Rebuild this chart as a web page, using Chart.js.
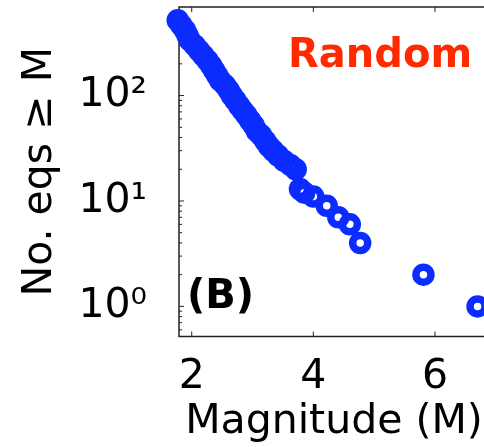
<!DOCTYPE html>
<html>
<head>
<meta charset="utf-8">
<script src="https://cdn.jsdelivr.net/npm/chart.js@4/dist/chart.umd.min.js"></script>
<style>
  html, body { margin: 0; padding: 0; background: #fff; overflow: hidden; }
  canvas { display: block; }
</style>
</head>
<body>
<canvas id="myChart" width="489" height="447"></canvas>
<script>
// Cumulative counts (No. eqs >= M)
var magnitudes = [1.77, 1.83, 1.89, 1.93, 1.97, 2.05, 2.12, 2.19, 2.26, 2.32, 2.37, 2.42,
  2.47, 2.55, 2.61, 2.66, 2.72, 2.78, 2.84, 2.90, 2.96, 3.02, 3.07, 3.14, 3.21, 3.27,
  3.34, 3.42, 3.52, 3.62, 3.71, 3.78, 3.85, 4.00, 4.22, 4.41, 4.60, 4.77, 5.81, 6.70];
var counts = [518, 464, 416, 373, 334, 299, 268, 240, 215, 193, 173, 155,
  139, 125, 112, 100, 90, 80, 72, 65, 58, 52, 46, 42, 37, 33,
  30, 27, 24, 22, 20, 13, 12, 11, 9, 7, 6, 4, 2, 1];

var xTicks = [2, 4, 6];
var yTicks = [1, 10, 100];
var yTickLabels = ['10\u2070', '10\u00b9', '10\u00b2'];

var BLUE = 'rgb(12,44,255)';
var FONT = '"DejaVu Sans", sans-serif';

// frame with inward ticks, plus the two labels inside the plot
var decorations = {
  id: 'decorations',
  beforeDatasetsDraw: function(chart) {
    var ctx = chart.ctx, a = chart.chartArea;
    var xs = chart.scales.x, ys = chart.scales.y;
    ctx.save();
    ctx.strokeStyle = '#222';
    ctx.lineWidth = 1.5;
    ctx.beginPath();
    ctx.moveTo(a.right, a.top);
    ctx.lineTo(a.left, a.top);
    ctx.lineTo(a.left, a.bottom);
    ctx.lineTo(a.right, a.bottom);
    ctx.stroke();

    ctx.lineWidth = 1;
    ctx.beginPath();
    xTicks.forEach(function(v) {
      var px = xs.getPixelForValue(v);
      ctx.moveTo(px, a.bottom); ctx.lineTo(px, a.bottom - 5);
      ctx.moveTo(px, a.top); ctx.lineTo(px, a.top + 5);
    });
    [0.1, 1, 10, 100].forEach(function(dec) {
      for (var d = 1; d <= 9; d++) {
        var v = d * dec;
        if (v < ys.min || v > ys.max) continue;
        var py = ys.getPixelForValue(v);
        ctx.moveTo(a.left, py);
        ctx.lineTo(a.left + (d === 1 ? 5 : 3), py);
      }
    });
    ctx.stroke();
    ctx.restore();
  },
  afterDatasetsDraw: function(chart) {
    var ctx = chart.ctx;
    ctx.save();
    ctx.textBaseline = 'alphabetic';
    ctx.textAlign = 'left';
    ctx.font = 'bold 40px ' + FONT;
    ctx.fillStyle = '#ff2a00';
    ctx.fillText('Random', 288, 67);
    ctx.fillStyle = '#000';
    ctx.fillText('(B)', 187, 308);
    ctx.restore();
  }
};

var points = magnitudes.map(function(m, i) { return { x: m, y: counts[i] }; });

var ctx = document.getElementById('myChart').getContext('2d');
var chart = new Chart(ctx, {
  type: 'scatter',
  data: {
    datasets: [{
      data: points,
      showLine: false,
      pointRadius: 7.5,
      pointHoverRadius: 7.5,
      borderWidth: 7.5,
      borderColor: BLUE,
      backgroundColor: 'rgba(0,0,0,0)',
      clip: false
    }]
  },
  options: {
    responsive: false,
    animation: false,
    events: [],
    layout: { autoPadding: false, padding: { top: 7, left: 0, right: 0, bottom: 0 } },
    plugins: { legend: { display: false }, tooltip: { enabled: false } },
    scales: {
      x: {
        type: 'linear',
        min: 1.791,
        max: 6.888,
        grid: { display: false },
        border: { display: false },
        afterBuildTicks: function(s) { s.ticks = xTicks.map(function(v) { return { value: v }; }); },
        afterFit: function(s) { s.height = 110.5; s.paddingLeft = 0; s.paddingRight = 0; },
        ticks: { font: { family: FONT, size: 41 }, color: '#000', padding: 8, maxRotation: 0, autoSkip: false },
        title: { display: true, text: 'Magnitude (M)', color: '#000', font: { family: FONT, size: 41 }, padding: { top: 0, bottom: 0 } }
      },
      y: {
        type: 'logarithmic',
        min: 0.518,
        max: 692,
        grid: { display: false },
        border: { display: false },
        afterBuildTicks: function(s) { s.ticks = yTicks.map(function(v) { return { value: v }; }); },
        afterFit: function(s) { s.width = 179; s.paddingTop = 0; s.paddingBottom = 0; },
        ticks: {
          font: { family: FONT, size: 41 }, color: '#000', padding: 24, autoSkip: false,
          callback: function(v, i) { return yTickLabels[i]; }
        },
        title: { display: true, text: 'No. eqs \u2265 M', color: '#000', font: { family: FONT, size: 41 }, padding: { top: 16, bottom: 0 } }
      }
    }
  },
  plugins: [decorations]
});
</script>
</body>
</html>
